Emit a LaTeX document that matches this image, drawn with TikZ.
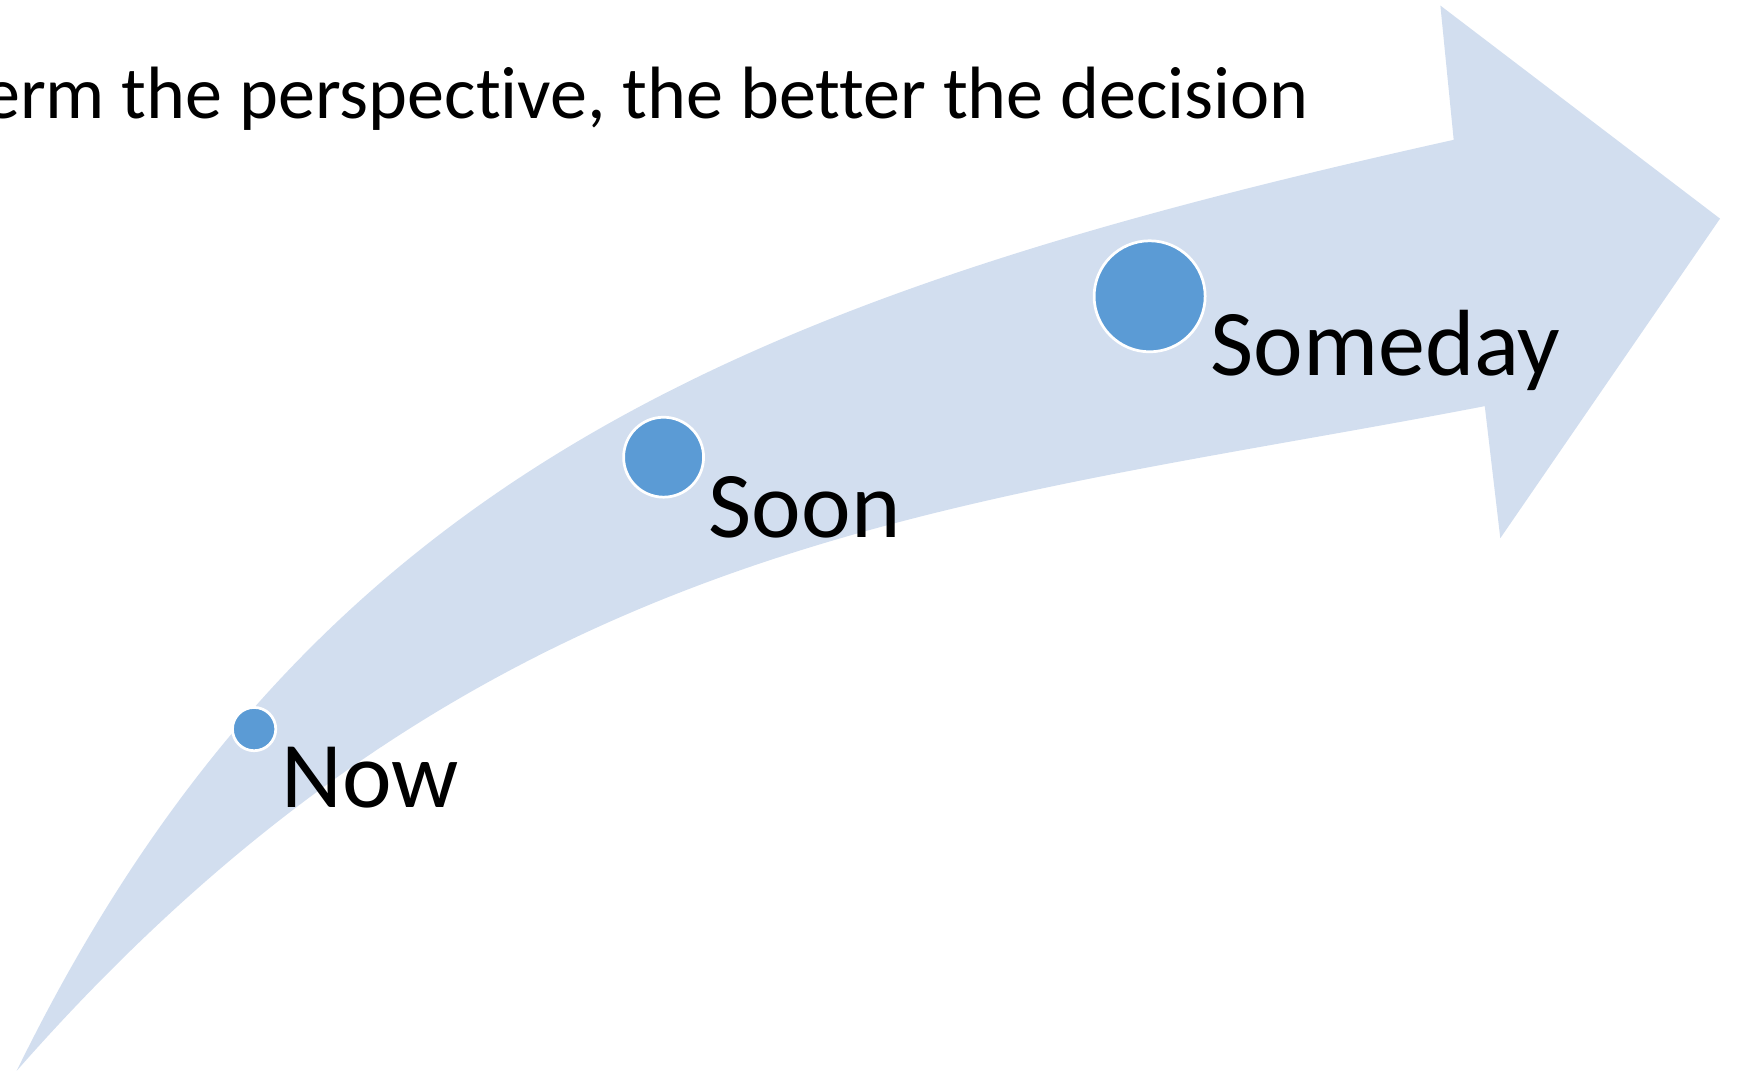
\documentclass[tikz,border=0pt]{standalone}
\usepackage{fontspec}
\setmainfont{Carlito}[Ligatures=NoCommon]
\usepackage{xcolor}
\definecolor{arrowfill}{RGB}{210,222,239}
\definecolor{dotblue}{RGB}{91,155,213}

\tikzset{
  dot/.style={circle, fill=dotblue, draw=white, line width=0.7pt, inner sep=0pt},
  stage/.style={anchor=base west, inner sep=0pt, font=\fontsize{24.1}{29}\selectfont}
}

\begin{document}
\begin{tikzpicture}[x=0.01cm, y=-0.01cm, line join=miter]

% ---------------------------------------------------------
% Frame (units are pixels, y pointing down)
% ---------------------------------------------------------
\useasboundingbox (0,0) rectangle (1568,966);
\clip (0,0) rectangle (1568,966);

% ---------------------------------------------------------
% Curved arrow
% ---------------------------------------------------------
\fill[arrowfill]
    (15,965) .. controls (279,425) and (676,267) .. (1310,126)  % upper edge
    -- (1298,5) -- (1550,197) -- (1352,485) -- (1338,366)       % head
    .. controls (860,458) and (444,477) .. cycle;               % lower edge

% ---------------------------------------------------------
% Headline
% ---------------------------------------------------------
\node[anchor=base east, inner sep=0pt, font=\fontsize{19}{23}\selectfont]
    (headline) at (1180,107) {erm the perspective, the better the decision};

% ---------------------------------------------------------
% Stages along the arrow
% ---------------------------------------------------------
\node[dot, minimum size=0.39cm] (now)     at (229,657)  {};
\node[dot, minimum size=0.72cm] (soon)    at (598,412)  {};
\node[dot, minimum size=1.00cm] (someday) at (1036,267) {};

\node[stage] (nowlabel)     at (253,728)  {Now};
\node[stage] (soonlabel)    at (638,484)  {Soon};
\node[stage] (somedaylabel) at (1090,338) {Someday};

\end{tikzpicture}
\end{document}
